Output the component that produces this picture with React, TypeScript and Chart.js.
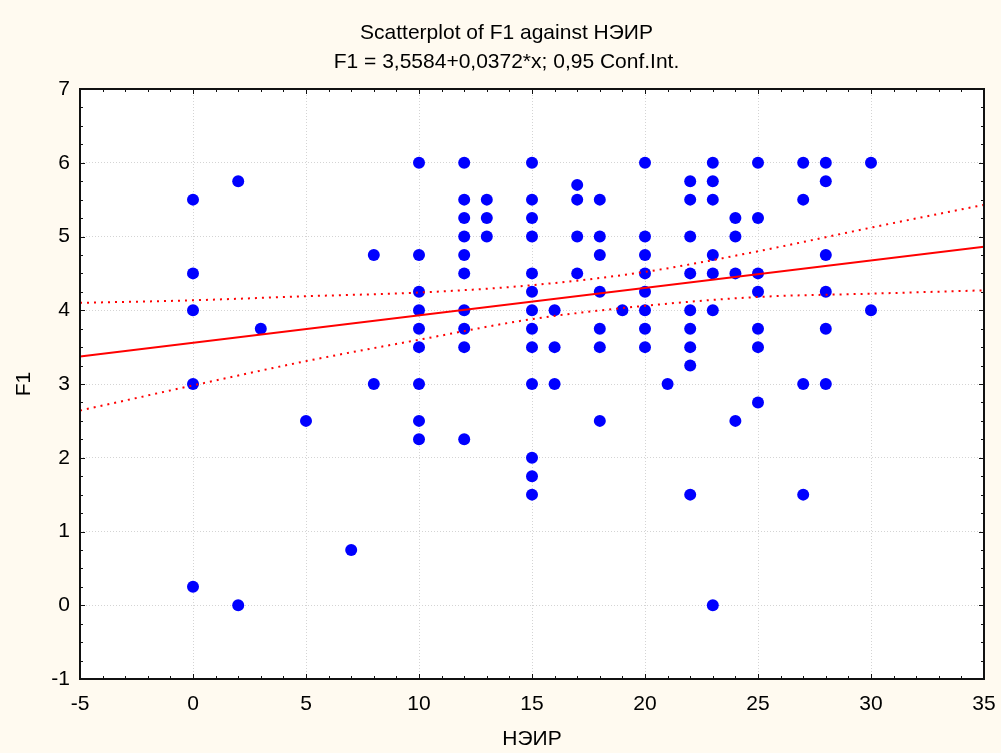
import { useEffect, useRef } from "react";
import { Chart, registerables } from "chart.js";

Chart.register(...registerables);

const titleText = "Scatterplot of F1 against НЭИР";
const subtitleText = "F1 = 3,5584+0,0372*x; 0,95 Conf.Int.";
const xAxisLabel = "НЭИР";
const yAxisLabel = "F1";

const xMin = -5;
const xMax = 35;
const xStep = 5;
const yMin = -1;
const yMax = 7;
const yStep = 1;

// observed points (НЭИР, F1)
const nairValues = [
  0, 0, 0, 0, 0,
  2, 2,
  3,
  5,
  7,
  8, 8,
  10, 10, 10, 10, 10, 10, 10, 10, 10,
  12, 12, 12, 12, 12, 12, 12, 12, 12, 12,
  13, 13, 13,
  15, 15, 15, 15, 15, 15, 15, 15, 15, 15, 15, 15, 15,
  16, 16, 16,
  17, 17, 17, 17,
  18, 18, 18, 18, 18, 18, 18,
  19,
  20, 20, 20, 20, 20, 20, 20, 20,
  21,
  22, 22, 22, 22, 22, 22, 22, 22, 22,
  23, 23, 23, 23, 23, 23, 23,
  24, 24, 24, 24,
  25, 25, 25, 25, 25, 25, 25,
  27, 27, 27, 27,
  28, 28, 28, 28, 28, 28,
  30, 30,
];
const f1Values = [
  5.5, 4.5, 4, 3, 0.25,
  5.75, 0,
  3.75,
  2.5,
  0.75,
  4.75, 3,
  6, 4.75, 4.25, 4, 3.75, 3.5, 3, 2.5, 2.25,
  6, 5.5, 5.25, 5, 4.75, 4.5, 4, 3.75, 3.5, 2.25,
  5.5, 5.25, 5,
  6, 5.5, 5.25, 5, 4.5, 4.25, 4, 3.75, 3.5, 3, 2, 1.75, 1.5,
  4, 3.5, 3,
  5.7, 5.5, 5, 4.5,
  5.5, 5, 4.75, 4.25, 3.75, 3.5, 2.5,
  4,
  6, 5, 4.75, 4.5, 4.25, 4, 3.75, 3.5,
  3,
  5.75, 5.5, 5, 4.5, 4, 3.75, 3.5, 3.25, 1.5,
  6, 5.75, 5.5, 4.75, 4.5, 4, 0,
  5.25, 5, 4.5, 2.5,
  6, 5.25, 4.5, 4.25, 3.75, 3.5, 2.75,
  6, 5.5, 3, 1.5,
  6, 5.75, 4.75, 4.25, 3.75, 3,
  6, 4,
];

// fitted line (read at the axis ends)
const fitX = [-5, 35];
const fitY = [3.372, 4.86];

// 0.95 confidence band
const bandX = [-5, 0, 5, 10, 15, 20, 25, 30, 35];
const bandUpper = [4.1, 4.135, 4.19, 4.24, 4.34, 4.52, 4.8, 5.12, 5.43];
const bandLower = [2.64, 2.98, 3.31, 3.6, 3.88, 4.06, 4.18, 4.225, 4.27];

const FONT = "'Liberation Sans', Arial, sans-serif";

const framePlugin = {
  id: "statFrame",
  beforeDraw(chart: any) {
    const { ctx, chartArea: a, width, height } = chart;
    ctx.save();
    ctx.fillStyle = "#FFFAF0";
    ctx.fillRect(0, 0, width, height);
    ctx.fillStyle = "#FFFFFF";
    ctx.fillRect(a.left, a.top, a.right - a.left, a.bottom - a.top);
    ctx.restore();
  },
  afterDraw(chart: any) {
    const { ctx, chartArea: a, scales } = chart;
    const xs = scales.x;
    const ys = scales.y;
    ctx.save();
    ctx.strokeStyle = "#111111";
    ctx.lineWidth = 1;
    ctx.beginPath();
    for (let v = xMin; v <= xMax; v++) {
      const px = Math.round(xs.getPixelForValue(v)) + 0.5;
      const len = v % xStep === 0 ? 5 : 3;
      ctx.moveTo(px, a.bottom);
      ctx.lineTo(px, a.bottom - len);
      ctx.moveTo(px, a.top);
      ctx.lineTo(px, a.top + len);
    }
    for (let i = 0; i <= (yMax - yMin) * 4; i++) {
      const v = yMin + i * 0.25;
      const py = Math.round(ys.getPixelForValue(v)) + 0.5;
      const len = i % 4 === 0 ? 5 : 3;
      ctx.moveTo(a.left, py);
      ctx.lineTo(a.left + len, py);
      ctx.moveTo(a.right, py);
      ctx.lineTo(a.right - len, py);
    }
    ctx.stroke();
    ctx.lineWidth = 2;
    ctx.strokeRect(a.left, a.top, a.right - a.left, a.bottom - a.top);
    ctx.restore();
  },
};

export default function App() {
  const ref = useRef<HTMLCanvasElement>(null);

  useEffect(() => {
    document.body.style.margin = "0";
    document.body.style.background = "#FFFAF0";
    const canvas = ref.current;
    if (!canvas) return;

    const points = nairValues.map((x, i) => ({ x, y: f1Values[i] }));
    const fit = fitX.map((x, i) => ({ x, y: fitY[i] }));
    const upper = bandX.map((x, i) => ({ x, y: bandUpper[i] }));
    const lower = bandX.map((x, i) => ({ x, y: bandLower[i] }));

    const chart = new Chart(canvas, {
      type: "scatter",
      data: {
        datasets: [
          {
            type: "line",
            label: "fit",
            data: fit,
            borderColor: "#FF0000",
            borderWidth: 2,
            pointRadius: 0,
            fill: false,
          },
          {
            type: "line",
            label: "upper",
            data: upper,
            borderColor: "#FF0000",
            borderWidth: 2,
            borderDash: [2, 5],
            pointRadius: 0,
            cubicInterpolationMode: "monotone",
            fill: false,
          },
          {
            type: "line",
            label: "lower",
            data: lower,
            borderColor: "#FF0000",
            borderWidth: 2,
            borderDash: [2, 5],
            pointRadius: 0,
            cubicInterpolationMode: "monotone",
            fill: false,
          },
          {
            label: "F1",
            data: points,
            backgroundColor: "#0000FF",
            borderWidth: 0,
            pointRadius: 6,
          },
        ],
      } as any,
      options: {
        responsive: false,
        animation: false,
        layout: { padding: { left: 12, right: 0, top: 0, bottom: 0 } },
        plugins: {
          legend: { display: false },
          tooltip: { enabled: false },
          title: {
            display: true,
            text: titleText,
            color: "#000000",
            font: { family: FONT, size: 21, weight: "normal" },
            padding: { top: 21, bottom: 0 },
          },
          subtitle: {
            display: true,
            text: subtitleText,
            color: "#000000",
            font: { family: FONT, size: 21, weight: "normal" },
            padding: { top: 3.8, bottom: 13.8 },
          },
        },
        scales: {
          x: {
            type: "linear",
            min: xMin,
            max: xMax,
            afterFit: (s: any) => {
              s.height = 74;
              s.paddingLeft = 0;
              s.paddingRight = 17;
            },
            ticks: {
              stepSize: xStep,
              color: "#000000",
              padding: 13,
              font: { family: FONT, size: 21 },
            },
            grid: {
              color: "#D4D4D4",
              drawTicks: false,
              lineWidth: 1,
            },
            border: { display: false, dash: [1, 2] },
            title: {
              display: true,
              text: xAxisLabel,
              color: "#000000",
              font: { family: FONT, size: 21 },
              padding: { top: 0, bottom: 1 },
            },
          },
          y: {
            type: "linear",
            min: yMin,
            max: yMax,
            afterFit: (s: any) => {
              s.width = 68;
              s.paddingTop = 0;
              s.paddingBottom = 0;
            },
            ticks: {
              stepSize: yStep,
              color: "#000000",
              padding: 10,
              font: { family: FONT, size: 21 },
            },
            grid: {
              color: "#D4D4D4",
              drawTicks: false,
              lineWidth: 1,
            },
            border: { display: false, dash: [1, 2] },
            title: {
              display: true,
              text: yAxisLabel,
              color: "#000000",
              font: { family: FONT, size: 21 },
              padding: { top: 0, bottom: 0 },
            },
          },
        },
      },
      plugins: [framePlugin],
    });

    return () => chart.destroy();
  }, []);

  return (
    <canvas
      ref={ref}
      width={1001}
      height={753}
      style={{ display: "block", width: 1001, height: 753 }}
    />
  );
}
